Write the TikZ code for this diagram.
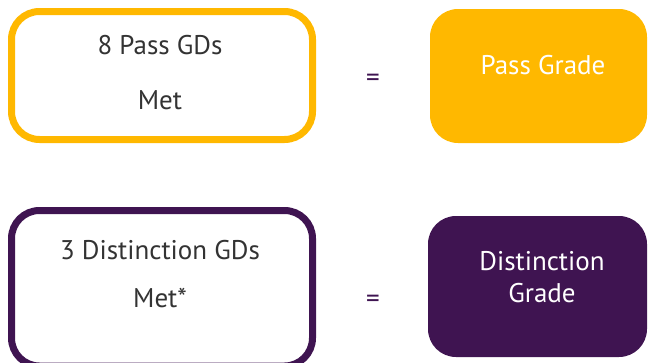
\documentclass[tikz,border=0pt]{standalone}
\usepackage{fontspec}
\setmainfont{PT Sans}
\definecolor{amber}{HTML}{FFB800}
\definecolor{plum}{HTML}{3F1451}
\definecolor{txt}{HTML}{333333}
\begin{document}
\begin{tikzpicture}[x=1pt,y=-1pt,
  lbl/.style={font=\fontsize{27}{32}\selectfont, text=txt, inner sep=0pt},
  wlbl/.style={font=\fontsize{27}{32}\selectfont, text=white, inner sep=0pt},
  eq/.style={font=\fontsize{27}{32}\selectfont, text=plum, inner sep=0pt}]
\useasboundingbox (0,0) rectangle (648,362);
\begin{scope}
\clip (0,0) rectangle (648,362);
% boxes
\draw[amber, line width=7pt, rounded corners=28pt] (11.5,11.5) rectangle (312.5,139.5);
\fill[amber, rounded corners=28pt] (430,9) rectangle (647,143);
\draw[plum, line width=7pt, rounded corners=28pt] (11.5,210.5) rectangle (312.5,366);
\fill[plum, rounded corners=28pt] (428,216) rectangle (647,357);
\end{scope}
% texts
\node[lbl] (a1) at (160,45) {8 Pass GDs};
\node[lbl] (a2) at (160,100) {Met};
\node[eq] (e1) at (373,80) {=};
\node[wlbl] (p) at (543,65) {Pass Grade};
\node[lbl] (b1) at (160,250) {3 Distinction GDs};
\node[lbl] (b2) at (160,298) {Met*};
\node[eq] (e2) at (373,301) {=};
\node[wlbl] (d1) at (542,261) {Distinction};
\node[wlbl] (d2) at (542,293) {Grade};
\end{tikzpicture}
\end{document}
